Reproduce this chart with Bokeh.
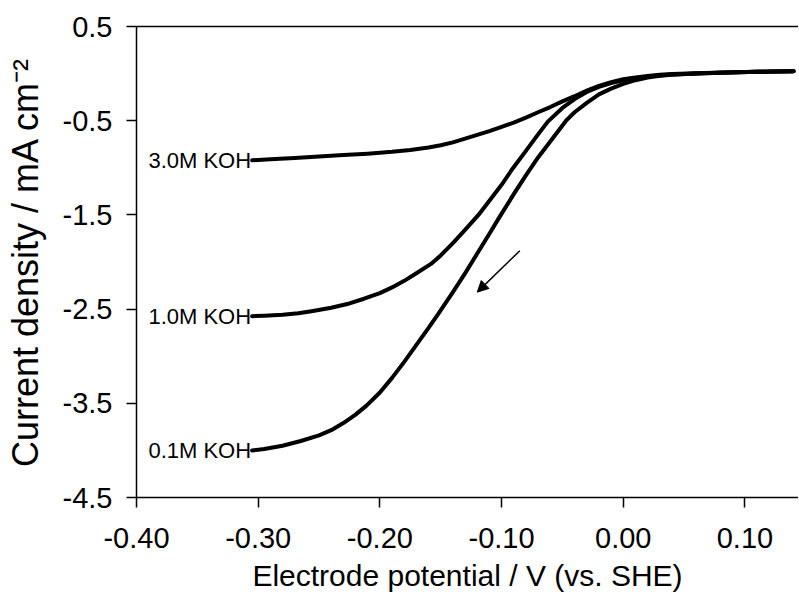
from bokeh.plotting import figure
from bokeh.models import (Range1d, FixedTicker, LinearAxis, Label, Arrow,
                          NormalHead, NumeralTickFormatter)
from bokeh.embed import file_html
from bokeh.resources import INLINE

# ---- data ----
series_names = ["3.0M KOH", "1.0M KOH", "0.1M KOH"]

potential_3M = [-0.305, -0.29, -0.27, -0.25, -0.23, -0.21, -0.19, -0.175, -0.16,
                -0.15, -0.14, -0.13, -0.12, -0.11, -0.10, -0.09, -0.08, -0.07,
                -0.06, -0.05, -0.04, -0.03, -0.02, -0.01, 0.00, 0.01, 0.02,
                0.03, 0.04, 0.06, 0.08, 0.10, 0.12, 0.14]
current_3M = [-0.92, -0.91, -0.895, -0.88, -0.865, -0.85, -0.83, -0.81, -0.785,
              -0.76, -0.73, -0.69, -0.65, -0.61, -0.565, -0.52, -0.468, -0.41,
              -0.355, -0.295, -0.24, -0.18, -0.13, -0.09, -0.06, -0.04, -0.025,
              -0.013, -0.005, 0.005, 0.012, 0.018, 0.022, 0.025]

potential_1M = [-0.305, -0.295, -0.28, -0.267, -0.255, -0.24, -0.225, -0.213,
                -0.20, -0.19, -0.18, -0.17, -0.158, -0.15, -0.14, -0.13,
                -0.119, -0.11, -0.10, -0.091, -0.08, -0.07, -0.062, -0.05,
                -0.04, -0.03, -0.02, -0.01, 0.00, 0.01, 0.02, 0.03, 0.04, 0.06,
                0.08, 0.11, 0.14]
current_1M = [-2.575, -2.57, -2.56, -2.545, -2.52, -2.485, -2.44, -2.39, -2.33,
              -2.27, -2.20, -2.12, -2.02, -1.93, -1.80, -1.66, -1.50, -1.35,
              -1.18, -1.01, -0.82, -0.645, -0.51, -0.365, -0.27, -0.195, -0.14,
              -0.10, -0.07, -0.048, -0.032, -0.019, -0.01, 0.0, 0.01, 0.02,
              0.025]

potential_01M = [-0.305, -0.295, -0.28, -0.265, -0.25, -0.24, -0.23, -0.22,
                 -0.211, -0.20, -0.19, -0.18, -0.17, -0.16, -0.152, -0.14,
                 -0.13, -0.12, -0.11, -0.103, -0.09, -0.08, -0.07, -0.06,
                 -0.047, -0.04, -0.03, -0.02, -0.01, 0.0, 0.01, 0.02, 0.03,
                 0.04, 0.06, 0.08, 0.11, 0.14]
current_01M = [-4.00, -3.985, -3.95, -3.90, -3.84, -3.785, -3.71, -3.62, -3.525,
               -3.385, -3.23, -3.06, -2.88, -2.70, -2.55, -2.32, -2.12, -1.91,
               -1.70, -1.55, -1.28, -1.08, -0.89, -0.72, -0.50, -0.41, -0.31,
               -0.22, -0.16, -0.11, -0.07, -0.042, -0.024, -0.012, 0.0, 0.01,
               0.02, 0.025]

x_ticks = [-0.40, -0.30, -0.20, -0.10, 0.00, 0.10]
y_ticks = [0.5, -0.5, -1.5, -2.5, -3.5, -4.5]

arrow_start = (-0.085, -1.88)
arrow_end = (-0.12, -2.32)

FONT = "Liberation Sans"

p = figure(width=798, height=600, output_backend="svg", toolbar_location=None,
           x_range=Range1d(-0.40, 0.144), y_range=Range1d(-4.5, 0.5),
           min_border_left=136, min_border_right=0, min_border_top=26,
           min_border_bottom=103)
p.outline_line_color = None
p.grid.visible = False
p.background_fill_color = "white"
p.border_fill_color = "white"

for ax in (p.xaxis[0], p.yaxis[0]):
    ax.axis_line_width = 1.5
    ax.axis_line_color = "black"
    ax.major_tick_line_width = 1.5
    ax.major_tick_line_color = "black"
    ax.major_tick_out = 10
    ax.major_tick_in = 0
    ax.minor_tick_line_color = None
    ax.major_label_text_font = FONT
    ax.major_label_text_font_size = "29px"
    ax.major_label_text_color = "black"
    ax.axis_label_text_font = FONT
    ax.axis_label_text_font_style = "normal"
    ax.axis_label_text_color = "black"

p.xaxis.ticker = FixedTicker(ticks=x_ticks)
p.xaxis.formatter = NumeralTickFormatter(format="0.00")
p.xaxis.major_label_standoff = 20
p.xaxis.axis_label = "Electrode potential / V (vs. SHE)"
p.xaxis.axis_label_text_font_size = "30px"
p.xaxis.axis_label_standoff = 8

p.yaxis.ticker = FixedTicker(ticks=y_ticks)
p.yaxis.formatter = NumeralTickFormatter(format="0.0")
p.yaxis.major_label_standoff = 14
p.yaxis.axis_label = "Current density / mA cm\u207b\u00b2"
p.yaxis.axis_label_text_font_size = "36px"
p.yaxis.axis_label_standoff = 14

top_axis = LinearAxis(ticker=FixedTicker(ticks=[]), axis_line_width=1.5,
                      axis_line_color="black", major_label_text_font_size="0px",
                      major_tick_line_color=None, minor_tick_line_color=None)
p.add_layout(top_axis, "above")

series = [(potential_3M, current_3M), (potential_1M, current_1M),
          (potential_01M, current_01M)]
for name, (xs, ys) in zip(series_names, series):
    p.line(xs, ys, line_color="black", line_width=4, line_join="round",
           line_cap="round")
    p.add_layout(Label(x=xs[0], y=ys[0], text=name, text_align="right",
                       text_baseline="alphabetic", text_font=FONT,
                       text_font_size="22px", text_color="black", x_offset=-1))

p.add_layout(Arrow(x_start=arrow_start[0], y_start=arrow_start[1],
                   x_end=arrow_end[0], y_end=arrow_end[1], line_width=1.5,
                   line_color="black",
                   end=NormalHead(size=11, fill_color="black",
                                  line_color="black", line_width=1)))

open("out.html", "w").write(file_html(p, INLINE))
